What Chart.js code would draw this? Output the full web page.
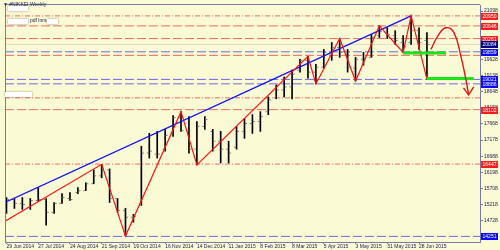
<!DOCTYPE html>
<html>
<head>
<meta charset="utf-8">
<script src="https://cdn.jsdelivr.net/npm/chart.js@4.4.1/dist/chart.umd.min.js"></script>
<style>
  html,body{margin:0;padding:0;background:#fafad4;}
  #c{display:block;}
</style>
</head>
<body>
<canvas id="c" width="500" height="250"></canvas>
<script>
/* ── DATA ── */
// x-axis labels, one every 4 weekly bars
const weekLabels = ['29 Jun 2014','27 Jul 2014','24 Aug 2014','21 Sep 2014','19 Oct 2014','16 Nov 2014',
  '14 Dec 2014','11 Jan 2015','8 Feb 2015','8 Mar 2015','5 Apr 2015','3 May 2015','31 May 2015','28 Jun 2015'];
const priceTicks = [14238,14728,15218,15708,16198,16688,17178,17668,18158,18648,19138,19628,20118,20608,21098];

// weekly OHLC, bar 0 = week of 29 Jun 2014
const opens  = [15041,15371,15251,15131,15341,15371,14981,15251,15401,15581,15641,15851,16091,16271,15401,15041,14831,15251,16781,16751,
  16901,17411,17861,17471,16901,17591,17441,17141,16901,16961,17441,17681,17741,18041,18461,18701,18791,19301,19601,19241,
  19391,19841,19991,19781,19361,19631,19691,20351,20441,20351,20141,20141,20501,20201];
const highs  = [15431,15401,15431,15401,15731,15401,15281,15551,15581,15731,15881,16271,16440,16301,15401,15101,14921,16991,17381,17441,
  17501,17921,18041,17891,17741,17891,17501,17441,17141,17591,17831,17951,18041,18491,18851,19091,19301,19631,19721,19481,
  19931,20141,20261,19931,19691,19841,20381,20651,20591,20501,20351,20951,20591,20441];
const lows   = [14951,15101,15071,15071,15311,14591,14951,15251,15341,15551,15641,15851,16031,15281,14981,14261,14681,15191,16631,16631,
  16841,17291,17441,16781,16421,17501,16841,16481,16481,16901,17231,17381,17441,17951,18431,18491,18431,19241,19061,18881,
  19361,19601,19691,19241,18971,19451,19691,20291,20261,20081,19841,20081,19931,19031];
const closes = [15371,15251,15221,15341,15371,14981,15251,15431,15371,15641,15851,16091,16301,15401,15041,14831,14861,16781,16841,16751,
  17321,17861,17471,16901,17591,17801,17141,16901,16781,17441,17681,17741,17891,18401,18701,18791,19181,19601,19241,19391,
  19841,19991,19841,19391,19631,19661,20291,20471,20381,20201,20021,20501,20141,20084];

// red zigzag (bar index, price)
const zigIdx = [-0.19, 12, 15, 22, 24, 38, 39, 42, 44, 47, 50, 51, 53];
const zigVal = [14711, 16440, 14261, 18041, 16421, 19721, 18881, 20261, 18971, 20651, 19841, 20951, 19031];
// blue trend line
const trendIdx = [-0.19, 51];
const trendVal = [15281, 20951];
// green support zones
const zoneFrom = [49.96, 52.96];
const zoneTo   = [55.4, 58.9];
const zoneVal  = [19820, 19046];
// projected path and arrow head
const pathIdx = [53.5, 54.4, 55.4, 56.4, 57.25, 57.9, 58.25];
const pathVal = [19931, 20351, 20591, 20441, 19751, 19031, 18551];
const headIdx = [57.6, 58.25, 58.9];
const headVal = [18761, 18551, 18791];

// horizontal levels and their price tags
const levelVals = [20950, 20646, 20261, 20084, 19859, 19751, 19021, 18886, 18461, 18102, 16447, 14251];
const levelTags = ['20950','20646','20261','20084','19859','','19021','18886','','18102','16447','14251'];

/* ── STYLE ── */
const levelKind = ['rdd','rd','rd','px','bd','rd','bd','bd','rdd','rd','rdd','bd'];
const kindStyle = {
  rd:  {color:'#f26a5e', dash:[9,3]},
  rdd: {color:'#f26a5e', dash:[5,2,1,2]},
  bd:  {color:'#6a6af0', dash:[9,3]},
  px:  {color:'#dcdccc', dash:[]}
};
const tagColor = {rd:'#ff1c1c', rdd:'#ff1c1c', bd:'#0a0aff', px:'#000080'};
const axisColor = '#7a7aa8';
const textColor = '#22225a';
const FONT = 'Liberation Sans';
const X_MIN = -0.1875, X_MAX = 59.6875;
const pts = (xs, ys) => xs.map((x, k) => ({x, y: ys[k]}));

const datasets = [];
datasets.push({type:'line', data:pts(pathIdx, pathVal), borderColor:'#e3140f', borderWidth:1.4, tension:0.45, pointRadius:0, fill:false});
datasets.push({type:'line', data:pts(headIdx, headVal), borderColor:'#e3140f', borderWidth:1.4, tension:0, pointRadius:0, fill:false});
zoneVal.forEach((v, k) => datasets.push({type:'line', data:[{x:zoneFrom[k], y:v}, {x:zoneTo[k], y:v}],
  borderColor:'#19e619', borderWidth:3, pointRadius:0, borderCapStyle:'butt'}));
datasets.push({type:'line', data:pts(zigIdx, zigVal), borderColor:'#ff1010', borderWidth:1.2, tension:0, pointRadius:0});
datasets.push({type:'line', data:pts(trendIdx, trendVal), borderColor:'#1010ff', borderWidth:1.2, tension:0, pointRadius:0});
datasets.push({type:'scatter', data:opens.map((v, i) => ({x:i - 0.19, y:v})), pointStyle:'line', pointRadius:1, borderColor:'#7a7a7a', borderWidth:1});
datasets.push({type:'scatter', data:closes.map((v, i) => ({x:i + 0.19, y:v})), pointStyle:'line', pointRadius:1, borderColor:'#7a7a7a', borderWidth:1});
datasets.push({type:'bar', data:highs.map((h, i) => ({x:i, y:[lows[i], h]})), backgroundColor:'#000', borderWidth:0, barThickness:1, grouped:false});
levelVals.forEach((v, k) => {
  const st = kindStyle[levelKind[k]];
  datasets.push({type:'line', data:[{x:X_MIN, y:v}, {x:X_MAX, y:v}], borderColor:st.color, borderWidth:1,
    borderDash:st.dash, pointRadius:0, borderCapStyle:'butt'});
});

/* ── PLUGINS ── */
const backdrop = {
  id:'backdrop',
  beforeDraw(chart){
    const ctx = chart.ctx;
    ctx.save();
    ctx.fillStyle = '#fafad4';
    ctx.fillRect(0, 0, chart.width, chart.height);
    ctx.restore();
  },
  afterDraw(chart){
    const {ctx, chartArea:a, scales:{y}} = chart;
    ctx.save();
    // frame top / left
    ctx.strokeStyle = axisColor; ctx.lineWidth = 1;
    ctx.beginPath();
    ctx.moveTo(a.left + 0.5, a.bottom); ctx.lineTo(a.left + 0.5, a.top - 0.5); ctx.lineTo(a.right, a.top - 0.5);
    ctx.stroke();
    // price tags on the right axis
    ctx.font = '5px "' + FONT + '"';
    ctx.textAlign = 'center'; ctx.textBaseline = 'middle';
    levelVals.forEach((v, k) => {
      if (!levelTags[k]) return;
      const py = Math.round(y.getPixelForValue(v));
      ctx.fillStyle = tagColor[levelKind[k]];
      ctx.fillRect(a.right + 1, py - 3, 17, 7);
      ctx.fillStyle = '#fff';
      ctx.fillText(levelTags[k], a.right + 9.5, py + 0.5);
    });
    // header text and blurred boxes
    ctx.textAlign = 'left';
    ctx.fillStyle = textColor;
    ctx.fillText('\u25BC #NIKKEI,Weekly', 3, 5);
    ctx.fillText('pdf lnrs', 30, 21);
    [[8,6,20,5],[8,19,20,5],[47,19,11,5],[5,92,27,5]].forEach(b => {
      ctx.shadowColor = 'rgba(90,90,90,0.8)'; ctx.shadowBlur = 2;
      ctx.fillStyle = '#ffffff';
      ctx.fillRect(b[0], b[1], b[2], b[3]);
    });
    ctx.restore();
  }
};

/* ── CHART ── */
new Chart(document.getElementById('c'), {
  type:'line',
  data:{datasets},
  options:{
    responsive:false, animation:false, devicePixelRatio:1,
    layout:{padding:{left:1, top:2, right:0, bottom:0}},
    plugins:{legend:{display:false}, tooltip:{enabled:false}},
    scales:{
      x:{
        type:'linear', min:X_MIN, max:X_MAX, offset:false,
        grid:{drawOnChartArea:false, tickLength:2, color:axisColor, offset:false},
        border:{color:axisColor},
        afterBuildTicks:s => { s.ticks = weekLabels.map((_, k) => ({value:k * 4})); },
        afterFit:s => { s.height = 8; },
        ticks:{font:{family:FONT, size:5}, color:textColor, padding:0, align:'start', maxRotation:0, autoSkip:false,
          callback:(v, idx) => weekLabels[idx]}
      },
      y:{
        type:'linear', position:'right', min:14081, max:21281,
        grid:{drawOnChartArea:false, tickLength:3, color:axisColor},
        border:{color:axisColor},
        afterBuildTicks:s => { s.ticks = priceTicks.map(v => ({value:v})); },
        afterFit:s => { s.width = 20; },
        ticks:{font:{family:FONT, size:5}, color:textColor, padding:1, callback:v => String(v)}
      }
    }
  },
  plugins:[backdrop]
});
</script>
</body>
</html>
